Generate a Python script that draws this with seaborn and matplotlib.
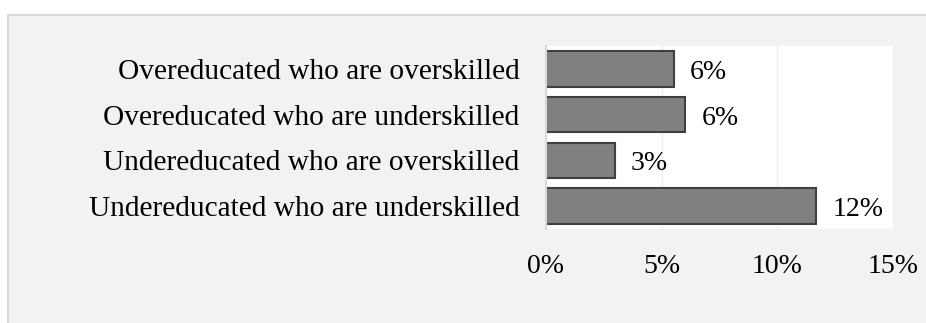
import matplotlib
matplotlib.use("Agg")
import matplotlib.pyplot as plt
from matplotlib.patches import Rectangle
import seaborn as sns
import pandas as pd

# Shares of workers by combined education / skill mismatch
categories = [
    "Overeducated who are overskilled",
    "Overeducated who are underskilled",
    "Undereducated who are overskilled",
    "Undereducated who are underskilled",
]
shares = [0.0553, 0.0603, 0.0297, 0.1168]
x_ticks = [0.0, 0.05, 0.10, 0.15]
x_tick_labels = ["0%", "5%", "10%", "15%"]

df = pd.DataFrame({"category": categories, "share": shares})

sns.set_theme(style="white")
plt.rcParams["font.family"] = ["Liberation Serif", "DejaVu Serif"]

W, H = 926, 323
fig = plt.figure(figsize=(W / 100, H / 100), dpi=100, facecolor="white")

# Light grey chart panel with a thin border
panel = Rectangle((8 / W, -0.1), 1.2, 1.1 - 15 / H, transform=fig.transFigure,
                  facecolor="#f2f2f2", edgecolor="#d9d9d9", linewidth=1.5, zorder=-10)
fig.patches.append(panel)

ax = fig.add_axes([546 / W, 1 - 229 / H, (893 - 546) / W, (229 - 46) / H])
ax.set_zorder(1)
ax.set_facecolor("white")

sns.barplot(data=df, x="share", y="category", orient="h", color="#808080",
            edgecolor="#404040", linewidth=1.5, width=0.78, saturation=1, ax=ax)

ax.set_xlim(0, 0.15)
ax.set_ylim(3.5, -0.5)
ax.set_xticks(x_ticks)
ax.set_xticklabels(x_tick_labels)
ax.set_xlabel("")
ax.set_ylabel("")

for x in x_ticks[1:]:
    ax.axvline(x, color="#ebebeb", linewidth=1.0, zorder=0)
ax.set_axisbelow(True)

for s in ["top", "right", "bottom"]:
    ax.spines[s].set_visible(False)
ax.spines["left"].set_color("#d9d9d9")
ax.spines["left"].set_linewidth(1.5)

ax.tick_params(axis="x", length=0, pad=18, labelsize=20, labelcolor="black")
ax.tick_params(axis="y", length=0, pad=19, labelsize=21.2, labelcolor="black")

# Value labels to the right of each bar
for i, v in enumerate(shares):
    ax.annotate(f"{v:.0%}", xy=(v, i), xytext=(11.5, -2.5), textcoords="offset points",
                ha="left", va="center", fontsize=20, color="black")

fig.savefig("out.png", dpi=100, facecolor="white")
